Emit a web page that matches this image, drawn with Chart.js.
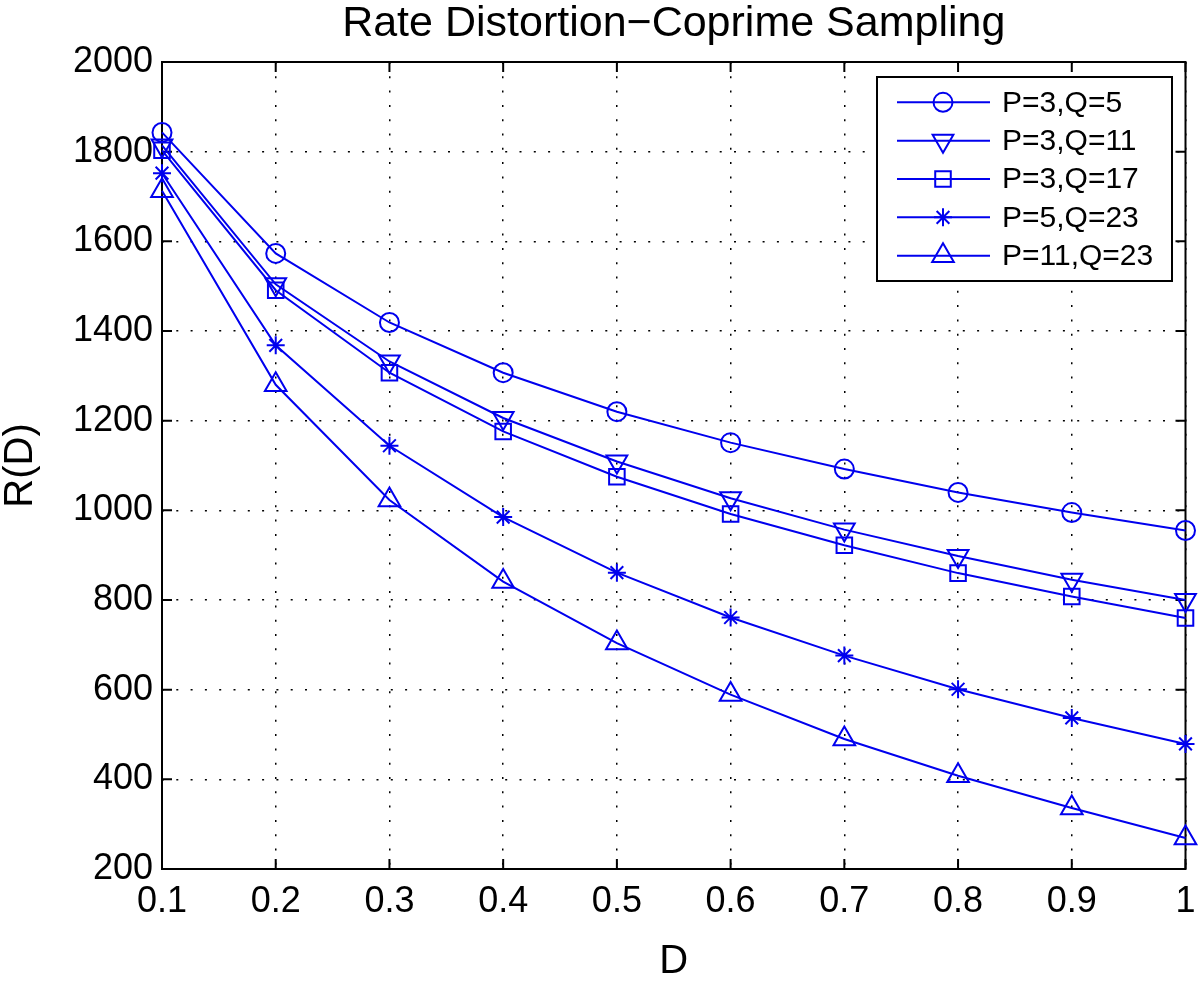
<!DOCTYPE html>
<html>
<head>
<meta charset="utf-8">
<script src="https://cdn.jsdelivr.net/npm/chart.js@4/dist/chart.umd.min.js"></script>
<style>
  html, body { margin: 0; padding: 0; background: #fff; }
  #wrap { width: 1200px; height: 984px; }
</style>
</head>
<body>
<div id="wrap"><canvas id="rd"></canvas></div>
<script>
// distortion values (x axis)
var dValues = [0.1, 0.2, 0.3, 0.4, 0.5, 0.6, 0.7, 0.8, 0.9, 1];
// R(D) per coprime pair
var rateP3Q5   = [1843, 1573, 1419, 1307, 1220, 1151, 1092, 1040, 995, 955];
var rateP3Q11  = [1814, 1504, 1332, 1206, 1109, 1027, 957, 898, 845, 800];
var rateP3Q17  = [1803, 1491, 1307, 1176, 1075, 992, 922, 860, 808, 760];
var rateP5Q23  = [1752, 1368, 1144, 985, 861, 761, 676, 601, 537, 479];
var rateP11Q23 = [1713, 1280, 1023, 841, 704, 589, 490, 408, 336, 269];
var seriesLabels = ['P=3,Q=5', 'P=3,Q=11', 'P=3,Q=17', 'P=5,Q=23', 'P=11,Q=23'];
var yTicks = [200, 400, 600, 800, 1000, 1200, 1400, 1600, 1800, 2000];
var chartTitle = 'Rate Distortion\u2212Coprime Sampling';

var blue = '#0000ee';
var fontName = '"Liberation Sans", Arial, Helvetica, sans-serif';

function pts(vals) {
  return vals.map(function (v, i) { return { x: dValues[i], y: v }; });
}

function mkSet(label, vals, style, r, rot) {
  return {
    label: label, data: pts(vals),
    borderColor: blue, borderWidth: 2,
    pointStyle: style, pointRadius: r, pointHoverRadius: r,
    pointRotation: rot || 0,
    pointBorderColor: blue, pointBackgroundColor: 'rgba(0,0,0,0)', pointBorderWidth: 2,
    tension: 0, clip: false
  };
}

var sets = [
  mkSet(seriesLabels[0], rateP3Q5, 'circle', 9.5),
  mkSet(seriesLabels[1], rateP3Q11, 'triangle', 12, 180),
  mkSet(seriesLabels[2], rateP3Q17, 'rect', 11),
  mkSet(seriesLabels[3], rateP5Q23, 'star', 9),
  mkSet(seriesLabels[4], rateP11Q23, 'triangle', 12.5)
];

// box around the axes + inward tick marks, matlab style; title centred over the axes
var frame = {
  id: 'frame',
  beforeDatasetsDraw: function (chart) {
    var a = chart.chartArea, ctx = chart.ctx;
    var xs = chart.scales.x, ys = chart.scales.y;
    ctx.save();
    ctx.strokeStyle = '#000';
    ctx.lineWidth = 2;
    ctx.strokeRect(a.left, a.top, a.right - a.left, a.bottom - a.top);
    ctx.beginPath();
    xs.ticks.forEach(function (t) {
      var px = xs.getPixelForValue(t.value);
      ctx.moveTo(px, a.bottom); ctx.lineTo(px, a.bottom - 10);
      ctx.moveTo(px, a.top); ctx.lineTo(px, a.top + 10);
    });
    ys.ticks.forEach(function (t) {
      var py = ys.getPixelForValue(t.value);
      ctx.moveTo(a.left, py); ctx.lineTo(a.left + 10, py);
      ctx.moveTo(a.right, py); ctx.lineTo(a.right - 10, py);
    });
    ctx.stroke();
    ctx.fillStyle = '#000';
    ctx.font = '43px ' + fontName;
    ctx.textAlign = 'center';
    ctx.textBaseline = 'middle';
    ctx.fillText(chartTitle, (a.left + a.right) / 2, 24);
    ctx.restore();
  }
};

// legend box in the upper right of the axes
var legendBox = {
  id: 'legendBox',
  afterDraw: function (chart) {
    var ctx = chart.ctx;
    var bx = 877, by = 77, bw = 295, bh = 204, row = 38.35;
    ctx.save();
    ctx.fillStyle = '#fff';
    ctx.fillRect(bx, by, bw, bh);
    ctx.strokeStyle = '#000';
    ctx.lineWidth = 2;
    ctx.strokeRect(bx, by, bw, bh);
    chart.data.datasets.forEach(function (ds, i) {
      var y = by + 25.3 + i * row;
      ctx.strokeStyle = ds.borderColor;
      ctx.lineWidth = 2;
      ctx.beginPath();
      ctx.moveTo(bx + 20, y); ctx.lineTo(bx + 113, y);
      ctx.stroke();
      ctx.fillStyle = 'rgba(0,0,0,0)';
      Chart.helpers.drawPoint(ctx, {
        pointStyle: ds.pointStyle, radius: ds.pointRadius,
        rotation: ds.pointRotation, borderWidth: 2
      }, bx + 66, y);
      ctx.fillStyle = '#000';
      ctx.font = '30px ' + fontName;
      ctx.textAlign = 'left';
      ctx.textBaseline = 'middle';
      ctx.fillText(ds.label, bx + 125, y + 1);
    });
    ctx.restore();
  }
};

new Chart(document.getElementById('rd'), {
  type: 'line',
  data: { datasets: sets },
  plugins: [frame, legendBox],
  options: {
    responsive: true, maintainAspectRatio: false, animation: false,
    layout: { padding: { left: 0, right: 0, top: 62, bottom: 0 } },
    plugins: {
      legend: { display: false },
      tooltip: { enabled: false },
      title: { display: false }
    },
    scales: {
      x: {
        type: 'linear', min: 0.1, max: 1,
        afterFit: function (s) { s.height = 115; s.paddingRight = 13; s.paddingLeft = 0; },
        ticks: {
          stepSize: 0.1, color: '#000', padding: 15,
          font: { family: fontName, size: 36, lineHeight: 1 },
          callback: function (v) { return String(Math.round(v * 10) / 10); }
        },
        grid: { color: '#000', lineWidth: 1.5, drawTicks: false, borderDash: [2, 12.3] },
        border: { display: false, dash: [2, 12.3] },
        title: {
          display: true, text: 'D', color: '#000',
          font: { family: fontName, size: 40, lineHeight: 1 },
          padding: { top: 0, bottom: 2 }
        }
      },
      y: {
        min: 200, max: 2000,
        afterFit: function (s) { s.width = 162; },
        afterBuildTicks: function (s) { s.ticks = yTicks.map(function (v) { return { value: v }; }); },
        ticks: {
          color: '#000', padding: 9,
          font: { family: fontName, size: 36, lineHeight: 1 },
          callback: function (v) { return String(v); }
        },
        grid: { color: '#000', lineWidth: 1.5, drawTicks: false, borderDash: [2, 12.3] },
        border: { display: false, dash: [2, 12.3] },
        title: {
          display: true, text: 'R(D)', color: '#000',
          font: { family: fontName, size: 40, lineHeight: 1 },
          padding: { top: 1, bottom: 0 }
        }
      }
    }
  }
});
</script>
</body>
</html>
